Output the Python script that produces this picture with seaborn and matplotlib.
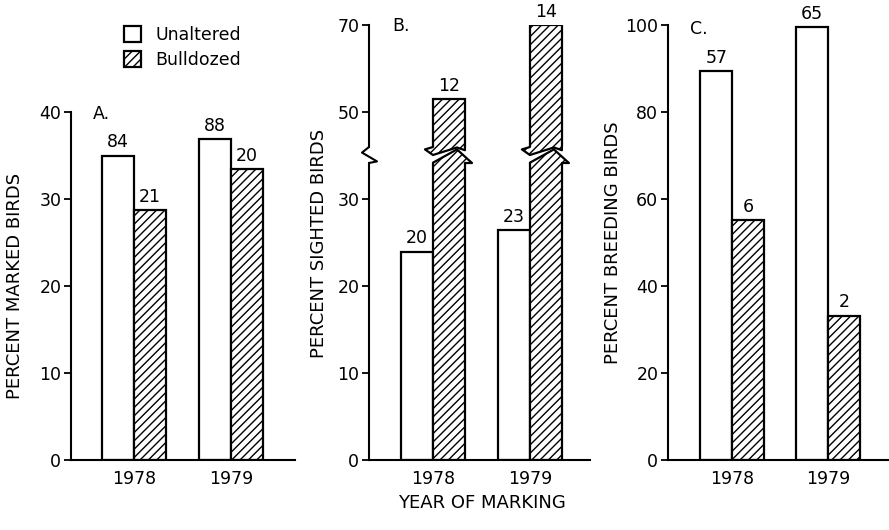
"""
Three panel bar chart: marked, sighted and breeding birds on unaltered
and bulldozed sites, 1978 and 1979.
"""

import pandas as pd
import seaborn as sns
import matplotlib.pyplot as plt
from matplotlib.patches import Patch, Polygon
from matplotlib.lines import Line2D

years = ['1978', '1979']
sites = ['Unaltered', 'Bulldozed']

marked_unaltered = [35.0, 36.9]
marked_bulldozed = [28.7, 33.4]
marked_n_unaltered = [84, 88]
marked_n_bulldozed = [21, 20]

sighted_unaltered = [24.0, 26.5]
sighted_bulldozed = [52.9, 70.0]
sighted_n_unaltered = [20, 23]
sighted_n_bulldozed = [12, 14]

breeding_unaltered = [89.4, 99.6]
breeding_bulldozed = [55.2, 33.2]
breeding_n_unaltered = [57, 65]
breeding_n_bulldozed = [6, 2]

sns.set_style('ticks')
plt.rcParams['font.family'] = ['DejaVu Sans']
plt.rcParams['hatch.linewidth'] = 1.0
for key in ('text.color', 'axes.labelcolor', 'xtick.color', 'ytick.color', 'axes.edgecolor'):
    plt.rcParams[key] = 'black'

FS = 12.5
W, H = 889, 530


def make_df(unaltered, bulldozed):
    return pd.DataFrame({'year': years * 2,
                         'site': [sites[0]] * 2 + [sites[1]] * 2,
                         'value': unaltered + bulldozed})


def px_axes(fig, left, top, right, bottom):
    # axes from pixel box of the reference picture
    return fig.add_axes([left / W, 1 - bottom / H, (right - left) / W, (bottom - top) / H])


def draw_bars(ax, df, xlim, ylim, yticks):
    sns.barplot(data=df, x='year', y='value', hue='site', order=years, hue_order=sites,
                palette={'Unaltered': 'white', 'Bulldozed': 'white'}, saturation=1,
                edgecolor='black', linewidth=1.6, width=0.66, errorbar=None,
                legend=False, ax=ax)
    for p in ax.containers[1]:
        p.set_hatch('////')
    ax.set_xlim(*xlim)
    ax.set_ylim(*ylim)
    ax.set_yticks(yticks)
    ax.set_xlabel('')
    ax.set_ylabel('')
    ax.tick_params(axis='x', length=0, pad=7, labelsize=FS)
    ax.tick_params(axis='y', length=5, width=1.3, pad=2, labelsize=FS, direction='out')
    for s in ('left', 'bottom'):
        ax.spines[s].set_linewidth(1.5)
    sns.despine(ax=ax)


fig = plt.figure(figsize=(8.89, 5.30), dpi=100)

# Panel A
ax_a = px_axes(fig, 71, 112, 295, 460)
draw_bars(ax_a, make_df(marked_unaltered, marked_bulldozed),
          (-0.65, 1.66), (0, 40), [0, 10, 20, 30, 40])
ax_a.bar_label(ax_a.containers[0], labels=marked_n_unaltered, padding=3, fontsize=FS)
ax_a.bar_label(ax_a.containers[1], labels=marked_n_bulldozed, padding=3, fontsize=FS)
ax_a.text(0.098, 0.995, 'A.', transform=ax_a.transAxes, fontsize=FS, va='center')

# Panel B (broken axis)
ax_bl = px_axes(fig, 369, 163, 590, 460)
ax_bu = px_axes(fig, 369, 25, 590, 147)
df_b = make_df(sighted_unaltered, sighted_bulldozed)
draw_bars(ax_bl, df_b, (-0.66, 1.62), (0, 34.2), [0, 10, 20, 30])
draw_bars(ax_bu, df_b, (-0.66, 1.62), (41.9, 70), [50, 70])
ax_bu.spines['bottom'].set_visible(False)
ax_bu.tick_params(axis='x', labelbottom=False)
ax_bl.bar_label(ax_bl.containers[0], labels=sighted_n_unaltered, padding=3, fontsize=FS)
ax_bu.bar_label(ax_bu.containers[1], labels=sighted_n_bulldozed, padding=3, fontsize=FS,
                annotation_clip=False)
ax_bu.text(0.104, 0.99, 'B.', transform=ax_bu.transAxes, fontsize=FS, va='center')

# break marks on the bulldozed bars and on the axis
to_fig = fig.transFigure.inverted()
ylo = ax_bl.transAxes.transform((0, 1))[1]
yup = ax_bu.transAxes.transform((0, 0))[1]
g = yup - ylo
for p in ax_bl.containers[1]:
    x0 = ax_bl.transData.transform((p.get_x(), 0))[0]
    x1 = ax_bl.transData.transform((p.get_x() + p.get_width(), 0))[0]
    bw = x1 - x0
    upper = [(x0, yup), (x0 - 0.25 * bw, yup - 0.15 * g), (x0, ylo + 0.5 * g),
             (x0 + 0.75 * bw, ylo + 0.97 * g), (x1, ylo + 0.8 * g), (x1, yup)]
    lower = [(x1, ylo), (x0, ylo), (x0, ylo + 0.02 * g), (x0 + 0.75 * bw, ylo + 0.85 * g),
             (x1 + 0.22 * bw, ylo), (x1, ylo)]
    for pts, edge in ((upper, upper), (lower, lower[2:])):
        fpts = to_fig.transform(pts)
        fig.add_artist(Polygon(fpts, closed=True, facecolor='white', edgecolor='black',
                               linewidth=0, hatch='////', transform=fig.transFigure))
        epts = to_fig.transform(edge)
        fig.add_artist(Line2D(epts[:, 0], epts[:, 1], color='black', linewidth=1.6,
                              transform=fig.transFigure))
sx = ax_bl.transAxes.transform((0, 0))[0]
zig = to_fig.transform([(sx, yup), (sx - 7, yup - 0.35 * g), (sx + 8, ylo + 0.1 * g), (sx, ylo)])
fig.add_artist(Line2D(zig[:, 0], zig[:, 1], color='black', linewidth=1.5,
                      transform=fig.transFigure))

# Panel C
ax_c = px_axes(fig, 668, 25, 889, 460)
draw_bars(ax_c, make_df(breeding_unaltered, breeding_bulldozed),
          (-0.667, 1.635), (0, 100), [0, 20, 40, 60, 80, 100])
ax_c.bar_label(ax_c.containers[0], labels=breeding_n_unaltered, padding=3, fontsize=FS)
ax_c.bar_label(ax_c.containers[1], labels=breeding_n_bulldozed, padding=3, fontsize=FS)
ax_c.text(0.1, 0.99, 'C.', transform=ax_c.transAxes, fontsize=FS, va='center')

# axis titles
for x, y, label in ((15, 286, 'PERCENT MARKED BIRDS'),
                    (319, 243, 'PERCENT SIGHTED BIRDS'),
                    (613, 243, 'PERCENT BREEDING BIRDS')):
    fig.text(x / W, 1 - y / H, label, rotation=90, ha='center', va='center', fontsize=13)
fig.text(482 / W, 1 - 503 / H, 'YEAR OF MARKING', ha='center', va='center', fontsize=13)

# legend
handles = [Patch(facecolor='white', edgecolor='black', linewidth=1.6),
           Patch(facecolor='white', edgecolor='black', linewidth=1.6, hatch='////')]
fig.legend(handles, sites, loc='upper left', bbox_to_anchor=(124 / W, 1 - 26 / H),
           frameon=False, fontsize=FS, handlelength=1.0, handleheight=1.0,
           handletextpad=0.8, labelspacing=0.4, borderpad=0, borderaxespad=0)

fig.savefig('out.png', dpi=100)
